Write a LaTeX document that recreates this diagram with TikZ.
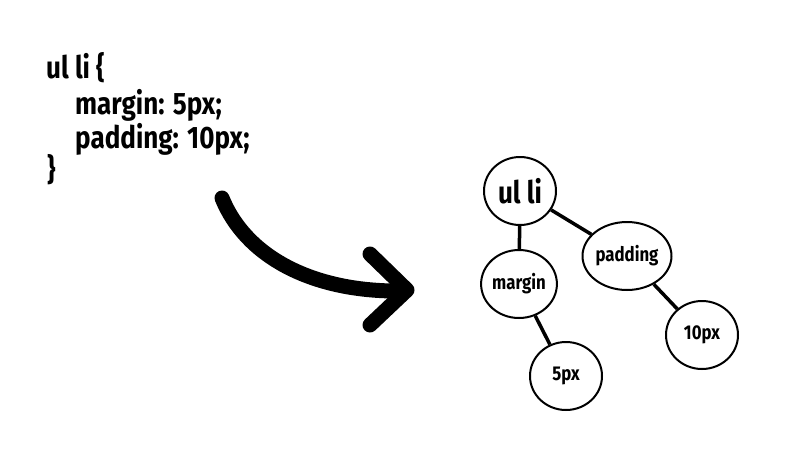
\documentclass[tikz,border=0pt]{standalone}
\usepackage{fontspec}
\newfontfamily\hand[FakeStretch=0.84]{Fira Sans}
\usetikzlibrary{shapes.geometric}
\tikzset{
  code/.style={anchor=base west, inner sep=0pt, font=\hand\bfseries\fontsize{31}{34}\selectfont},
  bubble/.style={ellipse, draw, line width=2pt, minimum width=72pt, minimum height=68pt, inner sep=0pt, font=\hand\bfseries\fontsize{20}{22}\selectfont},
  link/.style={line width=3.5pt},
  bigarrow/.style={line width=15pt, line cap=round, line join=round}
}
\begin{document}
\begin{tikzpicture}[x=1pt,y=-1pt]
\useasboundingbox[fill=white] (0,0) rectangle (800,450);
% code
\node[code] (l1) at (46,78) {ul li \{};
\node[code] (l2) at (75,114) {margin: 5px;};
\node[code] (l3) at (75,148) {padding: 10px;};
\node[code] (l4) at (47,180) {\}};
% arrow
\coordinate (as) at (222,198);
\coordinate (ae) at (401,291);
\coordinate (tip) at (407,290);
\coordinate (hu) at (370,254);
\coordinate (hl) at (370,325);
\draw[bigarrow] (as) .. controls (245,255) and (310,292) .. (ae);
\draw[bigarrow] (hu) -- (tip) -- (hl);
% tree
\node[bubble, font=\hand\bfseries\fontsize{31}{33}\selectfont] (ul) at (520,191) {ul li};
\node[bubble] (margin) at (519,284) {margin};
\node[bubble] (padding) at (627,256) {padding};
\node[bubble] (five) at (566,376) {5px};
\node[bubble] (ten) at (702,335) {10px};
\draw[link] (ul) -- (margin);
\draw[link] (ul) -- (padding);
\draw[link] (margin) -- (five);
\draw[link] (padding) -- (ten);
\end{tikzpicture}
\end{document}
